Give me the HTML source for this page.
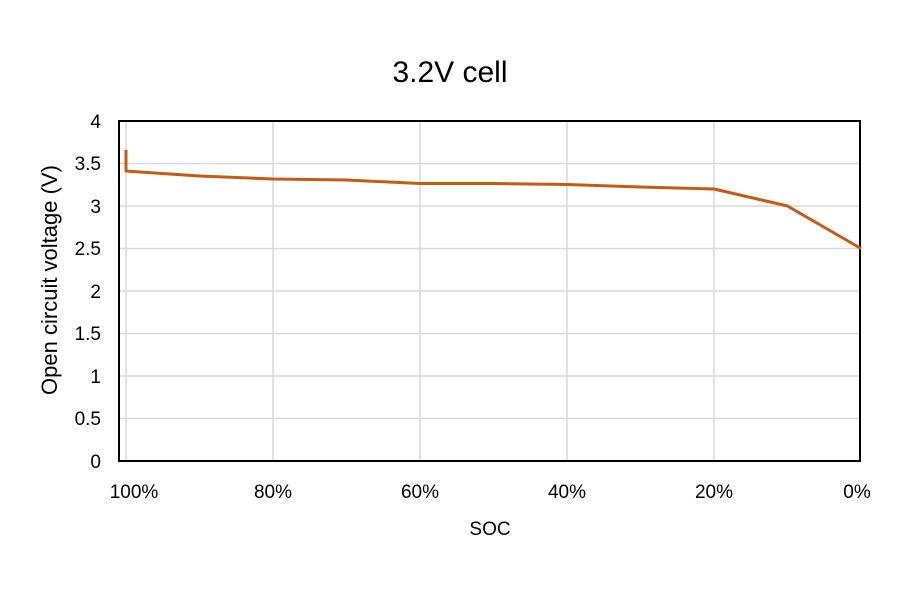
<!DOCTYPE html>
<html><head><style>body{margin:0;background:#fff}</style></head><body>
<svg width="900" height="600" xmlns="http://www.w3.org/2000/svg" style="font-family:'Liberation Sans',sans-serif">
<rect width="900" height="600" fill="#fff"/>
<text x="450" y="82" style="font-size:30px" text-anchor="middle" fill="#000">3.2V cell</text>
<g stroke="#d9d9d9" stroke-width="1.5">
<line x1="119" y1="163.5" x2="861" y2="163.5"/>
<line x1="119" y1="206" x2="861" y2="206"/>
<line x1="119" y1="248.5" x2="861" y2="248.5"/>
<line x1="119" y1="291" x2="861" y2="291"/>
<line x1="119" y1="333.5" x2="861" y2="333.5"/>
<line x1="119" y1="376" x2="861" y2="376"/>
<line x1="119" y1="418.5" x2="861" y2="418.5"/>
<line x1="126" y1="121" x2="126" y2="461"/>
<line x1="273" y1="121" x2="273" y2="461"/>
<line x1="420" y1="121" x2="420" y2="461"/>
<line x1="567" y1="121" x2="567" y2="461"/>
<line x1="714" y1="121" x2="714" y2="461"/>
</g>
<rect x="119" y="121" width="741" height="340" fill="none" stroke="#000" stroke-width="2"/>
<polyline fill="none" stroke="#c55a11" stroke-width="3" stroke-linejoin="round"
points="126,150 126,171 199.5,176 273,179 346.5,180 420,183.5 493.5,183.5 567,184.5 640.5,187 714,189 787.5,206 861,248.5"/>
<g style="font-size:19px" fill="#000" text-anchor="end">
<text x="101" y="128">4</text><text x="101" y="170">3.5</text><text x="101" y="213">3</text>
<text x="101" y="255">2.5</text><text x="101" y="298">2</text><text x="101" y="340">1.5</text>
<text x="101" y="383">1</text><text x="101" y="425">0.5</text><text x="101" y="468">0</text>
</g>
<g style="font-size:19px" fill="#000" text-anchor="middle">
<text x="134" y="498">100%</text><text x="273" y="498">80%</text><text x="420" y="498">60%</text>
<text x="567" y="498">40%</text><text x="714" y="498">20%</text><text x="857" y="498">0%</text>
<text x="490" y="535">SOC</text>
</g>
<text transform="translate(57,280) rotate(-90)" style="font-size:22px" text-anchor="middle" fill="#000">Open circuit voltage (V)</text>
</svg>
</body></html>
